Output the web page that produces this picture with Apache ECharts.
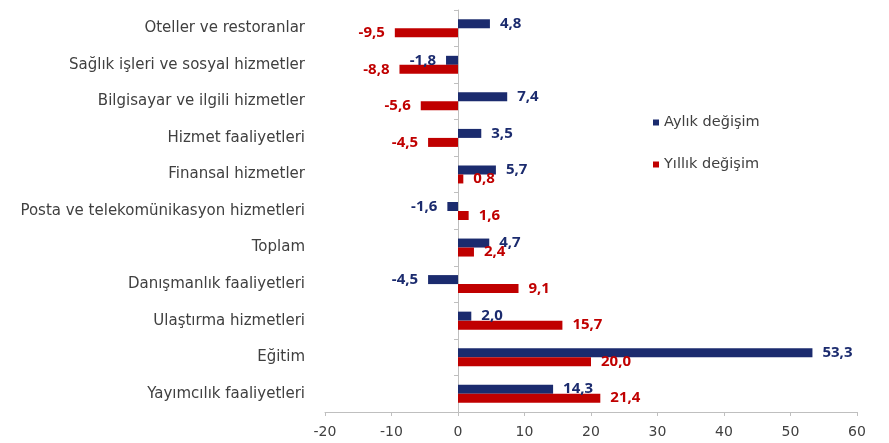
<!DOCTYPE html>
<html>
<head>
<meta charset="utf-8">
<script src="https://cdn.jsdelivr.net/npm/echarts@6/dist/echarts.min.js"></script>
<style>
  html, body { margin: 0; padding: 0; background: #fff; }
  #chart { width: 889px; height: 443px; }
</style>
</head>
<body>
<div id="chart"></div>
<script>
// kategoriler (yukarıdan aşağıya)
const categories = [
  'Oteller ve restoranlar',
  'Sağlık işleri ve sosyal hizmetler',
  'Bilgisayar ve ilgili hizmetler',
  'Hizmet faaliyetleri',
  'Finansal hizmetler',
  'Posta ve telekomünikasyon hizmetleri',
  'Toplam',
  'Danışmanlık faaliyetleri',
  'Ulaştırma hizmetleri',
  'Eğitim',
  'Yayımcılık faaliyetleri'
]
const aylik = [4.8, -1.8, 7.4, 3.5, 5.7, -1.6, 4.7, -4.5, 2.0, 53.3, 14.3]
const yillik = [-9.5, -8.8, -5.6, -4.5, 0.8, 1.6, 2.4, 9.1, 15.7, 20.0, 21.4]
const xTicks = { min: -20, max: 60, interval: 10 }

const FONT = '"DejaVu Sans", sans-serif'
const LABEL_FONT = '"Open Sans", sans-serif'
const BLUE = '#1b2b6e'
const RED = '#c00000'

const fmt = v => v.toFixed(1).replace('.', ',')

// negatif değerlerde etiket sola
function withLabels(values) {
  return values.map(v => ({
    value: v,
    label: { position: v < 0 ? 'left' : 'right' }
  }))
}

function barSeries(name, values, color) {
  return {
    name,
    type: 'bar',
    data: withLabels(values),
    barWidth: 9,
    barGap: '0%',
    itemStyle: { color },
    label: {
      show: true,
      distance: 10,
      color,
      fontFamily: LABEL_FONT,
      fontWeight: 'bold',
      fontSize: 15,
      formatter: p => fmt(p.value)
    }
  }
}

const chart = echarts.init(document.getElementById('chart'))
chart.setOption({
  animation: false,
  textStyle: { fontFamily: FONT },
  legend: {
    orient: 'vertical',
    left: 648,
    top: 110,
    itemWidth: 6,
    itemHeight: 6,
    itemGap: 27,
    icon: 'rect',
    textStyle: { fontSize: 14.5, color: '#404040', fontFamily: FONT }
  },
  grid: {
    left: 325, right: 32, top: 10, bottom: 31,
    containLabel: false,
    outerBoundsMode: 'none'
  },
  xAxis: {
    type: 'value',
    min: xTicks.min,
    max: xTicks.max,
    interval: xTicks.interval,
    splitLine: { show: false },
    axisLine: { show: true, lineStyle: { color: '#bfbfbf' } },
    axisTick: { show: true, length: 4, lineStyle: { color: '#bfbfbf' } },
    axisLabel: { color: '#404040', fontSize: 14, margin: 13 }
  },
  yAxis: {
    // eksen çizgisi sıfırda, etiketler solda
    type: 'category',
    data: categories,
    inverse: true,
    axisLine: { show: true, onZero: true, lineStyle: { color: '#bfbfbf' } },
    axisTick: { show: true, length: 4, lineStyle: { color: '#bfbfbf' } },
    axisLabel: { color: '#404040', fontSize: 15, margin: 20 }
  },
  series: [
    barSeries('Aylık değişim', aylik, BLUE),
    barSeries('Yıllık değişim', yillik, RED)
  ]
})
</script>
</body>
</html>
